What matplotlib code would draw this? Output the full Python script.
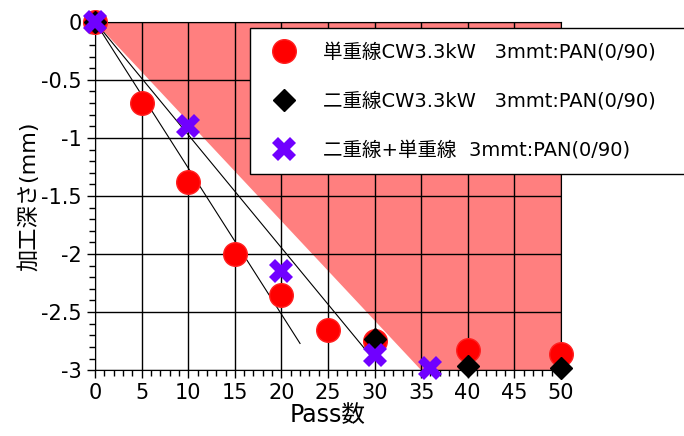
import matplotlib
matplotlib.use('Agg')
import matplotlib.pyplot as plt
from matplotlib.ticker import MultipleLocator

plt.rcParams['font.family'] = ['DejaVu Sans', 'Noto Sans CJK JP']

# 単重線 CW3.3kW
single_x = [0, 5, 10, 15, 20, 25, 30, 40, 50]
single_y = [0, -0.70, -1.38, -2.00, -2.35, -2.65, -2.75, -2.83, -2.86]
# 二重線 CW3.3kW
double_x = [0, 30, 40, 50]
double_y = [0, -2.73, -2.96, -2.98]
# 二重線+単重線
mixed_x = [0, 10, 20, 30, 36]
mixed_y = [0, -0.90, -2.15, -2.87, -2.98]

# guide lines drawn by hand in the original
guide1_x = [0, 22]
guide1_y = [0, -2.77]
guide2_x = [0, 29.5]
guide2_y = [0, -2.87]

# shaded "too deep" region
region_x = [0, 50, 50, 35]
region_y = [0, 0, -3, -3]

labels = ['単重線CW3.3kW   3mmt:PAN(0/90)',
          '二重線CW3.3kW   3mmt:PAN(0/90)',
          '二重線+単重線  3mmt:PAN(0/90)']

fig = plt.figure(figsize=(6.84, 4.36), dpi=100)
ax = fig.add_axes([0.139, 0.151, 0.681, 0.799])

ax.fill(region_x, region_y, color='#FF7F7F', lw=0, zorder=0)
ax.grid(True, which='major', color='black', lw=1.0, zorder=1)
ax.set_axisbelow(True)

ax.plot(guide1_x, guide1_y, color='black', lw=0.8, zorder=2)
ax.plot(guide2_x, guide2_y, color='black', lw=0.8, zorder=2)

ax.plot(single_x, single_y, 'o', color='#FF0000', ms=17, mec='#FF2020',
        ls='none', clip_on=False, zorder=3, label=labels[0])
ax.plot(double_x, double_y, 'D', color='black', ms=11,
        ls='none', clip_on=False, zorder=4, label=labels[1])
ax.plot(mixed_x, mixed_y, 'X', color='#7000FF', ms=17, mew=0,
        ls='none', clip_on=False, zorder=5, label=labels[2])

ax.set_xlim(0, 50)
ax.set_ylim(-3, 0)
ax.xaxis.set_major_locator(MultipleLocator(5))
ax.xaxis.set_minor_locator(MultipleLocator(1))
ax.yaxis.set_minor_locator(MultipleLocator(0.1))
ax.set_yticks([0, -0.5, -1, -1.5, -2, -2.5, -3])
ax.set_yticklabels(['0', '-0.5', '-1', '-1.5', '-2', '-2.5', '-3'])
ax.tick_params(which='major', length=6, width=1, labelsize=15, direction='out')
ax.tick_params(which='minor', length=4, width=1, direction='out')
for s in ax.spines.values():
    s.set_color('black')

ax.set_xlabel('Pass数', fontsize=17, labelpad=0)
ax.set_ylabel('加工深さ(mm)', fontsize=16, labelpad=1)

leg = fig.legend(loc='upper left', bbox_to_anchor=(0.365, 0.5, 0.70, 0.436),
                 mode='expand', fontsize=14, borderaxespad=0,
                 frameon=True, fancybox=False, edgecolor='black', framealpha=1,
                 labelspacing=1.55, borderpad=0.75, handlelength=2.0,
                 handletextpad=1.0, markerscale=1.0, numpoints=1)
leg.get_frame().set_linewidth(1.0)

fig.savefig('out.png', dpi=100)
